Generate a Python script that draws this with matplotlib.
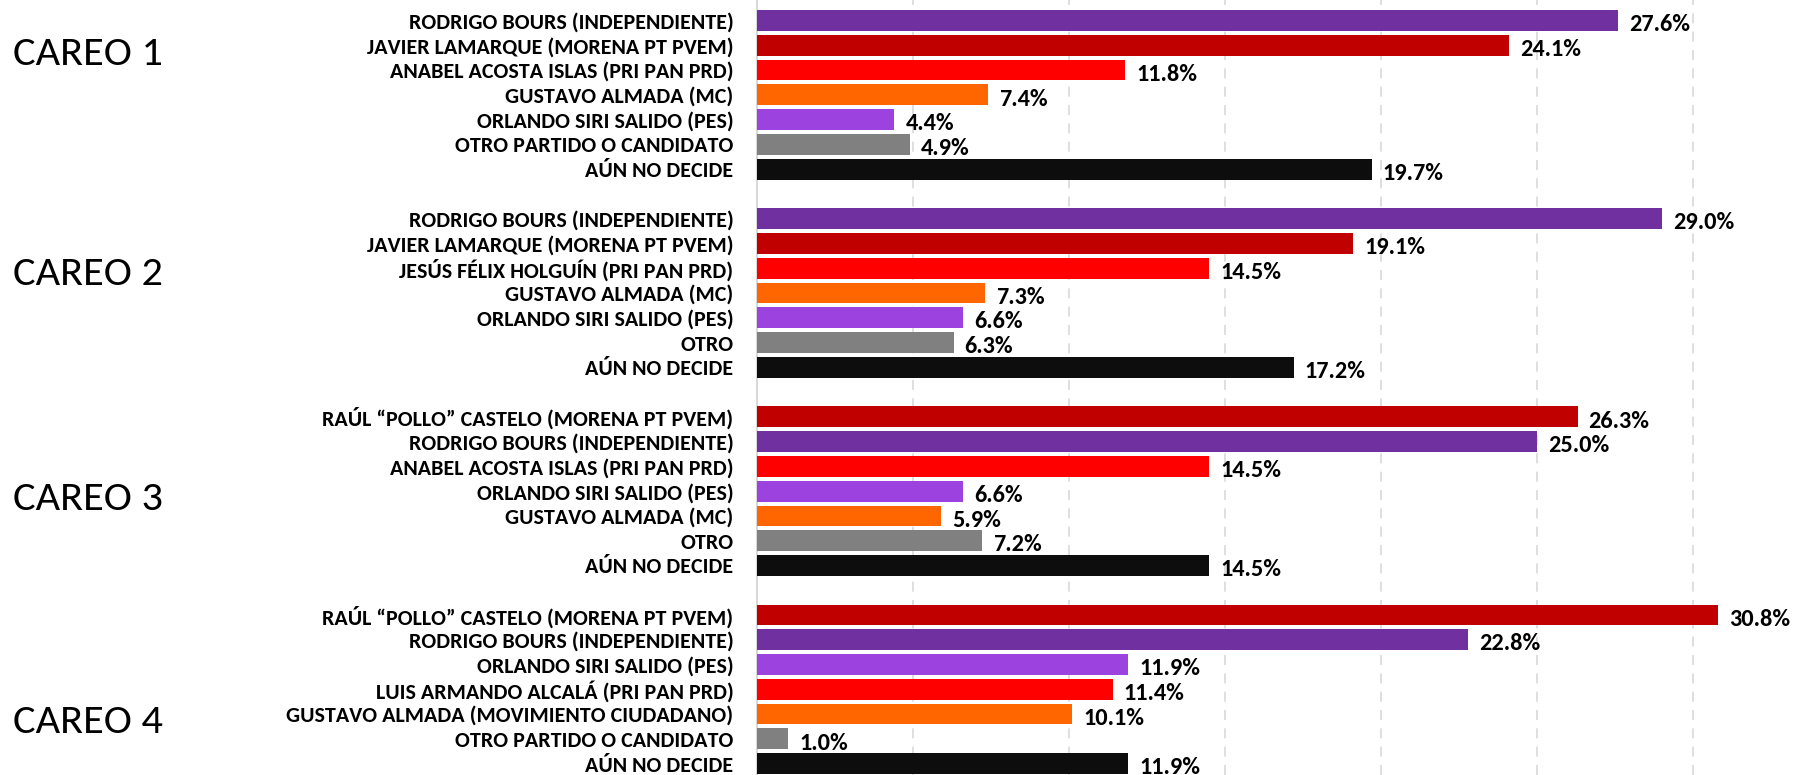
import matplotlib
matplotlib.use("Agg")
import matplotlib.pyplot as plt
from matplotlib import font_manager
from matplotlib.transforms import blended_transform_factory

# ---------------- data ----------------
careo_titles = ["CAREO 1", "CAREO 2", "CAREO 3", "CAREO 4"]

careo1_labels = ["RODRIGO BOURS (INDEPENDIENTE)", "JAVIER LAMARQUE (MORENA PT PVEM)",
                 "ANABEL ACOSTA ISLAS (PRI PAN PRD)", "GUSTAVO ALMADA (MC)",
                 "ORLANDO SIRI SALIDO (PES)", "OTRO PARTIDO O CANDIDATO", "AÚN NO DECIDE"]
careo1_values = [27.6, 24.1, 11.8, 7.4, 4.4, 4.9, 19.7]
careo1_parties = ["ind", "morena", "pri", "mc", "pes", "otro", "nd"]

careo2_labels = ["RODRIGO BOURS (INDEPENDIENTE)", "JAVIER LAMARQUE (MORENA PT PVEM)",
                 "JESÚS FÉLIX HOLGUÍN (PRI PAN PRD)", "GUSTAVO ALMADA (MC)",
                 "ORLANDO SIRI SALIDO (PES)", "OTRO", "AÚN NO DECIDE"]
careo2_values = [29.0, 19.1, 14.5, 7.3, 6.6, 6.3, 17.2]
careo2_parties = ["ind", "morena", "pri", "mc", "pes", "otro", "nd"]

careo3_labels = ["RAÚL “POLLO” CASTELO (MORENA PT PVEM)", "RODRIGO BOURS (INDEPENDIENTE)",
                 "ANABEL ACOSTA ISLAS (PRI PAN PRD)", "ORLANDO SIRI SALIDO (PES)",
                 "GUSTAVO ALMADA (MC)", "OTRO", "AÚN NO DECIDE"]
careo3_values = [26.3, 25.0, 14.5, 6.6, 5.9, 7.2, 14.5]
careo3_parties = ["morena", "ind", "pri", "pes", "mc", "otro", "nd"]

careo4_labels = ["RAÚL “POLLO” CASTELO (MORENA PT PVEM)", "RODRIGO BOURS (INDEPENDIENTE)",
                 "ORLANDO SIRI SALIDO (PES)", "LUIS ARMANDO ALCALÁ (PRI PAN PRD)",
                 "GUSTAVO ALMADA (MOVIMIENTO CIUDADANO)", "OTRO PARTIDO O CANDIDATO",
                 "AÚN NO DECIDE"]
careo4_values = [30.8, 22.8, 11.9, 11.4, 10.1, 1.0, 11.9]
careo4_parties = ["morena", "ind", "pes", "pri", "mc", "otro", "nd"]

party_colors = {"ind": "#7030A0", "morena": "#C00000", "pri": "#FF0000",
                "mc": "#FF6600", "pes": "#9B42DF", "otro": "#808080", "nd": "#0D0D0D"}

groups = [(careo1_labels, careo1_values, careo1_parties),
          (careo2_labels, careo2_values, careo2_parties),
          (careo3_labels, careo3_values, careo3_parties),
          (careo4_labels, careo4_values, careo4_parties)]

# ---------------- fonts ----------------
avail = {f.name for f in font_manager.fontManager.ttflist}
main_font = next((f for f in ["Carlito", "IBM Plex Sans Condensed", "Liberation Sans Narrow",
                              "Open Sans"] if f in avail), "DejaVu Sans")
plt.rcParams["font.family"] = [main_font, "DejaVu Sans"]

# ---------------- figure ----------------
fig = plt.figure(figsize=(17.93, 7.75), dpi=100)
ax = fig.add_axes([0.4222, 0.0, 0.5742, 1.0])

rows_per_group = 8
ytick_pos, ytick_lab = [], []
for g, (labs, vals, parts) in enumerate(groups):
    for j, (lab, v, p) in enumerate(zip(labs, vals, parts)):
        y = g * rows_per_group + j
        ax.barh(y, v, height=0.84, color=party_colors[p], zorder=3)
        ax.annotate(f"{v:.1f}%", xy=(v, y), xytext=(8, -3), textcoords="offset points",
                    ha="left", va="center", fontsize=17.5, fontweight="bold",
                    color="black", annotation_clip=False)
        ytick_pos.append(y)
        ytick_lab.append(lab)

ax.set_ylim(30.46, -0.83)
ax.set_xlim(0, 33)
ax.set_yticks(ytick_pos)
ax.set_yticklabels(ytick_lab, fontsize=15.8, fontweight="bold")
ax.tick_params(axis="y", length=0, pad=17)
ax.set_xticks([5, 10, 15, 20, 25, 30])
ax.tick_params(axis="x", length=0, labelbottom=False)
ax.grid(axis="x", color="#D9D9D9", linestyle=(0, (6, 5)), linewidth=1.2, zorder=0)
for s in ["top", "right", "bottom"]:
    ax.spines[s].set_visible(False)
ax.spines["left"].set_color("#D9D9D9")
ax.spines["left"].set_linewidth(1.5)

# Careo titles on the far left
careo_rows = [1.34, 10.24, 19.3, 28.3]
trans = blended_transform_factory(fig.transFigure, ax.transData)
for t, r in zip(careo_titles, careo_rows):
    ax.text(0.007, r, t, transform=trans, ha="left", va="center",
            fontsize=30.5, color="black")

fig.savefig("out.png", dpi=100)
